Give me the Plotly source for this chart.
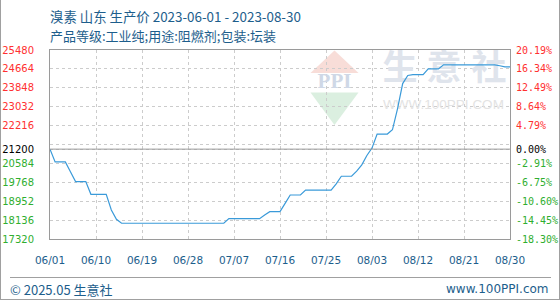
import plotly.graph_objects as go
import pandas as pd

# ---------------- data ----------------
start_date = "2023-06-01"
end_date = "2023-08-30"
dates = pd.date_range(start_date, end_date, freq="D")

prices = [
    21200, 20650, 20650, 20650, 20225, 19800, 19800, 19800, 19250, 19250,   # 06/01-06/10
    19250, 19250, 18575, 18170, 18000, 18000, 18000, 18000, 18000, 18000,   # 06/11-06/20
    18000, 18000, 18000, 18000, 18000, 18000, 18000, 18000, 18000, 18000,   # 06/21-06/30
    18000, 18000, 18000, 18000, 18000, 18200, 18200, 18200, 18200, 18200,   # 07/01-07/10
    18200, 18200, 18360, 18500, 18500, 18500, 18860, 19220, 19220, 19220,   # 07/11-07/20
    19430, 19430, 19430, 19430, 19430, 19430, 19700, 20030, 20030, 20030,   # 07/21-07/30
    20250, 20520, 20925, 21245, 21850, 21850, 21850, 22035, 22950, 24030,   # 07/31-08/09
    24380, 24420, 24420, 24420, 24664, 24664, 24664, 24840, 24840, 24840,   # 08/10-08/19
    24840, 24840, 24840, 24840, 24840, 24840, 24840, 24840, 24800, 24750,   # 08/20-08/29
    24750,                                                                  # 08/30
]

base_price = 21200
y_min, y_max = 17320, 25480
y_ticks = [25480, 24664, 23848, 23032, 22216, 21400, 21200, 20584, 19768, 18952, 18136, 17320]
unlabeled_ticks = [21400]

x_tick_dates = ["2023-06-01", "2023-06-10", "2023-06-19", "2023-06-28", "2023-07-07",
                "2023-07-16", "2023-07-25", "2023-08-03", "2023-08-12", "2023-08-21",
                "2023-08-30"]
x_tick_labels = ["06/01", "06/10", "06/19", "06/28", "07/07", "07/16", "07/25",
                 "08/03", "08/12", "08/21", "08/30"]

title_line1 = "溴素 山东 生产价 2023-06-01 - 2023-08-30"
title_line2 = "产品等级:工业纯;用途:阻燃剂;包装:坛装"
footer_left = "© 2025.05 生意社"
footer_right = "www.100PPI.com"

# ---------------- style ----------------
W, H = 560, 300
ML, MR, MT, MB = 50, 50, 50, 61
PW, PH = W - ML - MR, H - MT - MB
RED, GREEN, BLACK = "#ff3030", "#2fae2f", "#000000"
BLUE_TXT = "#1d5e8c"
LINE_COLOR = "#3a9ad9"
FRAME = "#9a9a9a"
GRID = "#cccccc"
CJK = "Noto Sans CJK SC"


def px(x):
    return (x - ML) / PW


def py(y):
    return (H - MB - y) / PH


t0, t1 = pd.Timestamp(start_date), pd.Timestamp(end_date)


def data_x(x_pix):
    return t0 + (t1 - t0) * px(x_pix)


def data_y(y_pix):
    return y_min + (y_max - y_min) * py(y_pix)


def colour_for(v):
    if v > base_price:
        return RED
    if v < base_price:
        return GREEN
    return BLACK


left_text = []
right_text = []
for v in y_ticks:
    if v in unlabeled_ticks:
        left_text.append("")
        right_text.append("")
        continue
    c = colour_for(v)
    left_text.append(f'<span style="color:{c}">{v}</span>')
    right_text.append(f'<span style="color:{c}">{(v / base_price - 1) * 100:.2f}%</span>')

fig = go.Figure()

# watermark (drawn first so that it sits beneath the price line)
wm_items = [
    ("生", 400, 71, CJK, 35, "#dfe4ec", "bold"),
    ("意", 444, 71, CJK, 35, "#dfe4ec", "bold"),
    ("社", 489, 71, CJK, 35, "#dfe4ec", "bold"),
    ("WWW.100PPI.COM", 443.5, 106, "Liberation Sans", 13.5, "#e3e3e3", "normal"),
    ("PPI", 334.5, 82.5, "Liberation Serif", 21, "#cfd8e6", "bold"),
]
for txt, cx, cy, fam, sz, col, wt in wm_items:
    fig.add_trace(go.Scatter(x=[data_x(cx)], y=[data_y(cy)], mode="text", text=[txt],
                             textposition="middle center",
                             textfont=dict(family=fam, size=sz, color=col, weight=wt),
                             showlegend=False, hoverinfo="skip", cliponaxis=False))

fig.add_trace(go.Scatter(x=dates, y=prices, mode="lines",
                         line=dict(color=LINE_COLOR, width=1.2),
                         showlegend=False, hoverinfo="skip"))
fig.add_trace(go.Scatter(x=[], y=[], yaxis="y2", showlegend=False, hoverinfo="skip"))

fig.update_layout(
    width=W, height=H,
    margin=dict(l=ML, r=MR, t=MT, b=MB, pad=0, autoexpand=False),
    paper_bgcolor="white", plot_bgcolor="white",
    xaxis=dict(
        type="date", range=[start_date, end_date], automargin=False,
        tickvals=x_tick_dates, ticktext=x_tick_labels,
        showgrid=True, gridcolor=GRID, griddash="3px,3px", gridwidth=1,
        showline=True, linecolor=FRAME, linewidth=1, mirror=True,
        ticks="outside", ticklen=11, tickcolor="rgba(0,0,0,0)",
        tickfont=dict(family="DejaVu Sans", size=10.5, color=BLUE_TXT),
        zeroline=False, fixedrange=True,
    ),
    yaxis=dict(
        range=[y_min, y_max], tickvals=y_ticks, ticktext=left_text, automargin=False,
        showgrid=True, gridcolor=GRID, griddash="3px,3px", gridwidth=1,
        showline=True, linecolor=FRAME, linewidth=1, mirror=True,
        ticks="outside", ticklen=13, tickcolor="rgba(0,0,0,0)",
        tickfont=dict(family="DejaVu Sans", size=10, color=BLACK),
        zeroline=False, fixedrange=True,
    ),
    yaxis2=dict(
        range=[y_min, y_max], tickvals=y_ticks, ticktext=right_text, automargin=False,
        overlaying="y", side="right", anchor="x",
        showgrid=False, showline=False, zeroline=False,
        ticks="outside", ticklen=3, tickcolor="rgba(0,0,0,0)",
        tickfont=dict(family="DejaVu Sans Mono", size=10, color=BLACK),
        fixedrange=True,
    ),
)

BORDER = "#a0a0a0"
shapes = []
shapes.append(dict(type="line", xref="paper", yref="y", x0=0, x1=1,
                   y0=base_price, y1=base_price, line=dict(color=FRAME, width=1), layer="above"))
shapes.append(dict(type="path", xref="paper", yref="paper", layer="below",
                   path=f"M {px(310.5)},{py(73)} L {px(334.5)},{py(50.5)} L {px(358.5)},{py(73)} Z",
                   fillcolor="#f8ddd8", line=dict(width=0)))
shapes.append(dict(type="path", xref="paper", yref="paper", layer="below",
                   path=f"M {px(310.5)},{py(92.5)} L {px(334.5)},{py(125)} L {px(358.5)},{py(92.5)} Z",
                   fillcolor="#dbefe0", line=dict(width=0)))
shapes.append(dict(type="line", xref="paper", yref="paper", layer="above",
                   x0=px(10), x1=px(551), y0=py(277.5), y1=py(277.5),
                   line=dict(color=BORDER, width=1)))
shapes.append(dict(type="line", xref="paper", yref="paper", layer="above",
                   x0=px(0.5), x1=px(0.5), y0=py(0), y1=py(300),
                   line=dict(color=BORDER, width=1)))
shapes.append(dict(type="line", xref="paper", yref="paper", layer="above",
                   x0=px(559.5), x1=px(559.5), y0=py(0), y1=py(300),
                   line=dict(color=BORDER, width=1)))
shapes.append(dict(type="line", xref="paper", yref="paper", layer="above",
                   x0=px(0), x1=px(560), y0=py(299.5), y1=py(299.5),
                   line=dict(color=BORDER, width=1)))
fig.update_layout(shapes=shapes)

ann = []
ann.append(dict(text=title_line1, x=px(48), y=py(16), xref="paper", yref="paper",
                xanchor="left", yanchor="middle", showarrow=False,
                font=dict(family=CJK, size=13.4, color=BLUE_TXT)))
ann.append(dict(text=title_line2, x=px(48), y=py(35.5), xref="paper", yref="paper",
                xanchor="left", yanchor="middle", showarrow=False,
                font=dict(family=CJK, size=13, color=BLUE_TXT)))
ann.append(dict(text=footer_left, x=px(8), y=py(289), xref="paper", yref="paper",
                xanchor="left", yanchor="middle", showarrow=False,
                font=dict(family=CJK, size=13, color=BLUE_TXT)))
ann.append(dict(text=footer_right, x=px(551), y=py(289), xref="paper", yref="paper",
                xanchor="right", yanchor="middle", showarrow=False,
                font=dict(family="DejaVu Sans", size=12, color=BLUE_TXT)))
fig.update_layout(annotations=ann)

fig.write_html("out.html")
